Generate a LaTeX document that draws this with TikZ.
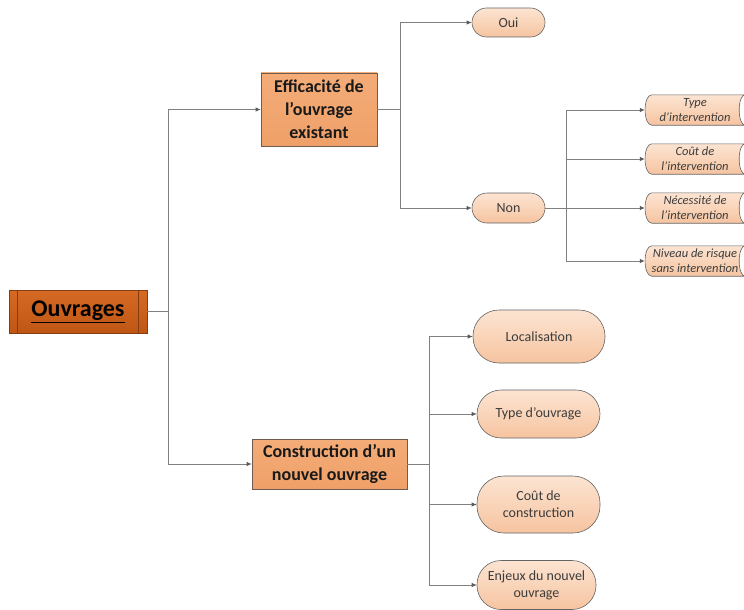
\documentclass[tikz,border=0pt]{standalone}
\usepackage{fontspec}
\setmainfont{Carlito}
\usetikzlibrary{arrows.meta,backgrounds}
\definecolor{linec}{RGB}{128,128,128}
\definecolor{tipc}{RGB}{90,90,90}
\definecolor{ouvtop}{RGB}{212,106,36}
\definecolor{ouvbot}{RGB}{192,86,20}
\definecolor{ouvdraw}{RGB}{135,60,15}
\definecolor{efftop}{RGB}{244,172,120}
\definecolor{effbot}{RGB}{239,160,104}
\definecolor{effdraw}{RGB}{110,92,80}
\definecolor{pilltop}{RGB}{252,228,210}
\definecolor{pillbot}{RGB}{246,196,160}
\definecolor{pilldraw}{RGB}{100,100,100}
\definecolor{pilltext}{RGB}{60,60,60}
\begin{document}
\begin{tikzpicture}[x=1pt,y=-1pt,
  conn/.style={draw=linec,line width=0.8pt},
  arr/.style={conn,-{Latex[length=5pt,width=4.5pt,color=tipc]}},
  mainbox/.style={draw=ouvdraw,line width=0.8pt,top color=ouvtop,bottom color=ouvbot,
    minimum width=138pt,minimum height=43pt,inner sep=0pt,
    font=\bfseries\fontsize{24}{28}\selectfont},
  catbox/.style={draw=effdraw,line width=0.6pt,top color=efftop,bottom color=effbot,
    inner sep=0pt,align=center,text={rgb,255:red,25;green,25;blue,25},
    font=\bfseries\fontsize{18}{23}\selectfont},
  pill/.style={draw=pilldraw,line width=0.6pt,top color=pilltop,bottom color=pillbot,
    rounded corners=#1,inner sep=0pt,align=center,text=pilltext,
    font=\fontsize{14}{17}\selectfont},
  pill/.default=14pt,
  tailnode/.style={minimum width=100pt,minimum height=30pt,inner sep=0pt,align=center,
    text=pilltext,font=\itshape\fontsize{12.5}{15}\selectfont},
  tailshape/.style={draw=pilldraw,line width=0.6pt,top color=pilltop,bottom color=pillbot}
]
\useasboundingbox (0,0) rectangle (744,610);

% main node
\node[mainbox] (ouv) at (78,311.5) {\underline{Ouvrages}};
\draw[ouvdraw,line width=0.6pt] ([xshift=9pt]ouv.north west) -- ([xshift=9pt]ouv.south west);
\draw[ouvdraw,line width=0.6pt] ([xshift=-9pt]ouv.north east) -- ([xshift=-9pt]ouv.south east);

% categories
\node[catbox,minimum width=116pt,minimum height=73pt] (eff) at (319,109.5)
  {Efficacité de\\l’ouvrage\\existant};
\node[catbox,minimum width=155pt,minimum height=50pt] (con) at (329.5,464)
  {Construction d’un\\nouvel ouvrage};

% oui / non
\node[pill=14.5pt,minimum width=73pt,minimum height=29pt] (oui) at (508.5,22.5) {Oui};
\node[pill=15pt,minimum width=73pt,minimum height=30pt] (non) at (508.5,208) {Non};

% tail nodes (cut at right edge)
\node[tailnode] (t1) at (695,110) {Type\\d’intervention};
\node[tailnode] (t2) at (695,159) {Coût de\\l’intervention};
\node[tailnode] (t3) at (695,208) {Nécessité de\\l’intervention};
\node[tailnode] (t4) at (695,261) {Niveau de risque\\sans intervention};
\begin{scope}[on background layer]
\foreach \n in {t1,t2,t3,t4}{
  \path[tailshape] ([xshift=7pt]\n.north west)
     .. controls ([xshift=-2pt]\n.north west) and ([xshift=-2pt]\n.south west) .. ([xshift=7pt]\n.south west)
     -- (\n.south east)
     .. controls ([xshift=-8pt]\n.south east) and ([xshift=-8pt]\n.north east) .. (\n.north east)
     -- cycle;
}
\end{scope}

% construction children
\node[pill=26pt,minimum width=132pt,minimum height=53pt] (loc) at (539,336.5) {Localisation};
\node[pill=24pt,minimum width=123pt,minimum height=48pt] (typ) at (538.5,414) {Type d’ouvrage};
\node[pill=27pt,minimum width=123pt,minimum height=57pt] (cout) at (538.5,504.5) {Coût de\\construction};
\node[pill=24pt,minimum width=119pt,minimum height=49pt] (enj) at (536.5,585) {Enjeux du nouvel\\ouvrage};

% junctions
\coordinate (j1) at (168,311.5);
\coordinate (j2) at (400,109.5);
\coordinate (j3) at (566,208);
\coordinate (j4) at (429,464);

% connectors
\draw[conn] (ouv.east) -- (j1);
\draw[arr] (j1) |- (eff.west);
\draw[arr] (j1) |- (con.west);

\draw[conn] (eff.east) -- (j2);
\draw[arr] (j2) |- (oui.west);
\draw[arr] (j2) |- (non.west);

\draw[conn] (non.east) -- (j3);
\draw[arr] (j3) |- (t1.west);
\draw[arr] (j3) |- (t2.west);
\draw[arr] (j3) |- (t3.west);
\draw[arr] (j3) |- (t4.west);

\draw[conn] (con.east) -- (j4);
\draw[arr] (j4) |- (loc.west);
\draw[arr] (j4) |- (typ.west);
\draw[arr] (j4) |- (cout.west);
\draw[arr] (j4) |- (enj.west);
\end{tikzpicture}
\end{document}
